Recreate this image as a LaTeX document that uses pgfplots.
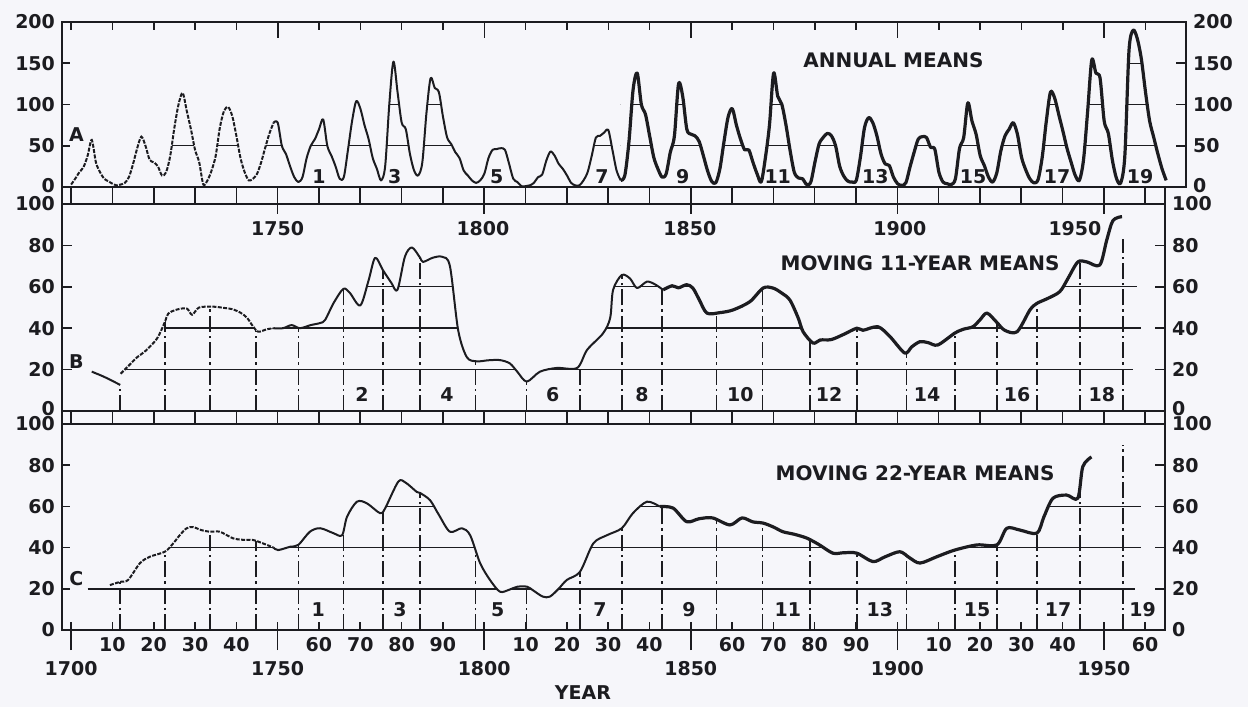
\documentclass[border=0pt]{standalone}
\usepackage{fontspec}
\setmainfont{DejaVu Sans}
\usepackage{pgfplots}
\usepackage{pgfplotstable}
\pgfplotsset{compat=1.18}

\definecolor{paper}{RGB}{246,246,250}
\definecolor{ink}{RGB}{28,28,32}
\newcommand\lab{\bfseries\fontsize{9.5}{10}\selectfont}
\newcommand\ttl{\bfseries\fontsize{10}{11}\selectfont}

% annual means, panel A
\pgfplotstableread[row sep=\\]{x y\\
1700 3\\1701 10\\1702 18\\1703 24\\1704 38\\1705 57\\1706 30\\1707 18\\1708 10\\1709 7\\
1710 4\\1711 2\\1712 3\\1713 5\\1714 12\\1715 28\\1716 47\\1717 61\\1718 50\\1719 33\\
1720 30\\1721 25\\1722 14\\1723 18\\1724 38\\1725 72\\1726 100\\1727 114\\1728 92\\1729 70\\
1730 45\\1731 30\\1732 3\\1733 8\\1734 20\\1735 38\\1736 72\\1737 92\\1738 97\\1739 86\\
1740 62\\1741 35\\1742 18\\1743 8\\1744 10\\1745 16\\1746 30\\1747 48\\1748 65\\1749 78\\
}\Aone
\pgfplotstableread[row sep=\\]{x y\\
1749 78\\1750 78\\1751 50\\1752 40\\1753 25\\1754 12\\1755 6\\1756 12\\1757 35\\1758 50\\1759 58\\
1760 70\\1761 82\\1762 50\\1763 38\\1764 25\\1765 10\\1766 12\\1767 45\\1768 80\\1769 104\\
1770 95\\1771 75\\1772 58\\1773 35\\1774 22\\1775 8\\1776 25\\1777 100\\1778 152\\1779 115\\
1780 78\\1781 70\\1782 40\\1783 20\\1784 14\\1785 30\\1786 90\\1787 132\\1788 120\\1789 115\\
1790 85\\1791 60\\1792 52\\1793 42\\1794 35\\1795 20\\1796 14\\1797 8\\1798 5\\1799 8\\
1800 16\\1801 35\\1802 45\\1803 46\\1804 47\\1805 45\\1806 28\\1807 10\\1808 6\\1809 1\\
1810 1\\1811 2\\1812 5\\1813 12\\1814 15\\1815 32\\1816 43\\1817 38\\1818 28\\1819 22\\
1820 14\\1821 5\\1822 2\\1823 2\\1824 8\\1825 18\\1826 38\\1827 60\\1828 62\\1829 66\\
1830 69\\1831 45\\1832 20\\1833 8\\
}\Atwo
\pgfplotstableread[row sep=\\]{x y\\
1833 8\\1834 14\\1835 55\\1836 118\\1837 138\\1838 100\\1839 88\\1840 62\\1841 36\\1842 22\\
1843 12\\1844 16\\1845 42\\1846 62\\1847 125\\1848 110\\1849 70\\1850 64\\1851 62\\1852 55\\
1853 38\\1854 20\\1855 7\\1856 5\\1857 22\\1858 55\\1859 85\\1860 95\\1861 75\\1862 58\\
1863 45\\1864 45\\1865 30\\1866 16\\1867 6\\1868 35\\1869 75\\1870 138\\1871 110\\1872 100\\
1873 75\\1874 44\\1875 18\\1876 11\\1877 10\\1878 3\\1879 6\\1880 30\\1881 52\\1882 60\\
1883 65\\1884 62\\1885 50\\1886 25\\1887 13\\1888 7\\1889 6\\1890 8\\1891 36\\1892 72\\
1893 84\\1894 78\\1895 62\\1896 40\\1897 28\\1898 26\\1899 12\\1900 4\\1901 2\\1902 5\\
1903 24\\1904 42\\1905 58\\1906 61\\1907 60\\1908 48\\1909 46\\1910 18\\1911 6\\1912 4\\
1913 3\\1914 10\\1915 47\\1916 60\\1917 102\\1918 80\\1919 64\\1920 38\\1921 26\\1922 12\\
1923 6\\1924 17\\1925 44\\1926 62\\1927 70\\1928 78\\1929 64\\1930 36\\1931 21\\1932 10\\
1933 5\\1934 9\\1935 36\\1936 80\\1937 115\\1938 108\\1939 88\\1940 68\\1941 47\\1942 30\\
1943 14\\1944 8\\1945 33\\1946 92\\1947 154\\1948 138\\1949 132\\1950 80\\1951 65\\1952 32\\
1953 10\\1954 5\\1955 38\\1956 165\\1957 190\\1958 180\\1959 155\\1960 115\\1961 80\\1962 60\\
1963 40\\1964 22\\1965 8\\
}\Athree

% moving 11-year means, panel B
\pgfplotstableread[row sep=\\]{x y\\
1705 19\\1708 16.5\\1711.9 12.6\\
}\Bzero
\pgfplotstableread[row sep=\\]{x y\\
1712 18\\1714 22\\1716 26\\1718 29\\1720.8 35\\1722.7 43\\1723.5 47\\1725.6 49\\1728 49.5\\
1729.3 46.5\\1731 50\\1734.4 50.4\\1737 49.8\\1739 49.2\\1741 47.5\\1742.6 45\\1744 41\\
1745.3 38.3\\1747.4 39.5\\1749 40\\
}\Bone
\pgfplotstableread[row sep=\\]{x y\\
1749 40\\1751.3 40\\1753.4 41.5\\1755.4 40\\1758 41.5\\1760.3 42.5\\1761.5 44\\1763.5 52\\
1765.9 59\\1767.5 57\\1770 51\\1772 63\\1773.6 74\\1775.5 68\\1777.5 62\\1779 58.5\\
1780.8 74.5\\1782.5 79\\1784.5 74\\1785.2 72\\1787.5 74\\1789.8 74.5\\1791.7 70\\1793.7 39\\
1795.8 26\\1798.2 24\\1801 24.5\\1803.8 24.6\\1806.2 23\\1808 19\\1810.3 14.2\\1813.5 19\\
1817.6 20.8\\1822.5 20.8\\1824.9 29.5\\1828.8 37.6\\1830.5 45\\1831.2 58.5\\1833.3 65.7\\
1835.3 64\\1837 59.4\\1839.4 62.5\\1841.5 61\\1843.3 58.5\\
}\Btwo
\pgfplotstableread[row sep=\\]{x y\\
1843.3 58.5\\1845.5 60.5\\1847 59.5\\1849 61\\1850.5 59.4\\1852 54\\1853.9 47.3\\1857 47.5\\
1860.2 48.8\\1864.3 52.8\\1867.5 59.4\\1869.9 59.4\\1872 57\\1874 53.6\\1876 45\\1877.2 38.3\\
1879.6 32.8\\1881.3 34.3\\1884 34.5\\1887 37\\1890.2 40\\1891.7 39\\1895.3 40.7\\1898.2 36\\
1901.8 28\\1903.5 31\\1905.5 33.5\\1907.5 33\\1909.8 31.9\\1913.9 37.6\\1916 39.5\\
1918.3 40.7\\1920 44\\1921.7 47.3\\1924 43\\1926 39\\1929 38.3\\1932.1 48.8\\1933.8 52\\
1936 54\\1939.3 57.6\\1941.3 64\\1943.7 72\\1945.9 72\\1949 70.5\\1950.7 82.6\\1952.2 92\\
1954.4 93.9\\
}\Bthree

% moving 22-year means, panel C
\pgfplotstableread[row sep=\\]{x y\\
1709.4 21.8\\1711.9 23.4\\1713.8 24.3\\1716.7 32.5\\1719.1 35.6\\1722.7 38\\1724.7 42\\
1726.5 46.5\\1728 49.4\\1729.5 50\\1731.5 48.5\\1733.6 47.7\\1736 47.7\\1739.2 44.5\\
1741.5 43.8\\1744 43.7\\1746.5 42\\1749 40\\
}\Cone
\pgfplotstableread[row sep=\\]{x y\\
1749 40\\1750.1 38.8\\1753 40.4\\1755 41.3\\1757.8 47.7\\1760.3 49.4\\1763.5 47\\1765.6 46\\
1766.8 55\\1769.2 62.3\\1771.6 61.5\\1774.8 56.7\\1776 59\\1779.2 72\\1781 71.5\\1783.7 67\\
1784.5 66.5\\1786.9 63\\1789 56\\1791.7 47.7\\1794.6 49.4\\1796.6 46\\1799 32.5\\1801.4 24.3\\
1803.8 18.6\\1806 19.5\\1808 21\\1810.4 21\\1812 19\\1814.2 16.2\\1815.9 16.2\\1818 20\\
1820 24.3\\1823.2 28.3\\1826.4 42\\1829.7 46\\1833.3 49.4\\1836 56.7\\1839.4 62.3\\1842.5 59.9\\
}\Ctwo
\pgfplotstableread[row sep=\\]{x y\\
1842.5 59.9\\1845.7 59.2\\1849 52.6\\1852 54\\1855.3 54.4\\1859.5 51\\1862.4 54.4\\1865 52.5\\
1867.5 51.9\\1870 50\\1872.3 47.7\\1875 46.5\\1878.1 44.6\\1881 41.5\\1884.4 37.3\\1887 37.5\\
1890.2 37.3\\1894.1 33.2\\1897 35.5\\1900.6 38\\1903 35\\1905.5 32.5\\1909.6 35.6\\1913.9 38.8\\
1919.3 41.3\\1924.1 41.3\\1926.5 49.4\\1929.7 48.5\\1933.8 47\\1935.5 55\\1937.7 64\\1941 65.5\\
1943.7 64\\1944.9 79.3\\1947 84\\
}\Cthree

\tikzset{
  gridl/.style={ink, line width=0.7pt},
  minl/.style={ink, line width=0.8pt, dash pattern=on 8pt off 2pt on 1.2pt off 2pt},
  dotc/.style={ink, line width=1pt, smooth, tension=0.5, dash pattern=on 2pt off 0.7pt},
  thinc/.style={ink, line width=1pt, smooth, tension=0.5, line join=round},
  thickc/.style={ink, line width=1.6pt, smooth, tension=0.5, line join=round},
  mask/.style={fill=paper, draw=none, smooth, tension=0.5},
}
\pgfplotsset{
  base/.style={scale only axis, anchor=south west, xmin=1697.8, xmax=1964.8,
    axis on top, axis line style={ink, line width=1pt},
    tick style={ink, line width=0.8pt}, tick align=inside, major tick length=5pt,
    tick label style={font=\lab, text=ink},
    /pgf/number format/assume math mode=true, /pgf/number format/1000 sep={}},
  band/.style={base, ymin=0, ymax=1, xtick={1700,1710,...,1960}, xmajorgrids,
    major grid style={ink, line width=0.8pt}, major tick length=0pt,
    xticklabels={}, ytick=\empty, width=551.5pt},
  rightax/.style={base, axis x line=none, axis y line*=right, xticklabels={}},
}

\begin{document}
\begin{tikzpicture}[every node/.append style={font=\lab, text=ink}]
\fill[paper] (0,0) rectangle (624pt,353.5pt);

% ---- A: annual means
\begin{axis}[base, at={(31pt,260pt)}, width=562pt, height=82.5pt, xmax=1969.8,
  ymin=0, ymax=200, ytick={0,50,...,200}, ytick pos=left,
  yticklabels={\raisebox{2pt}{0},50,100,150,200},
  xtick={1700,1710,...,1960}, xtick pos=right, major tick length=4pt, xticklabels={},
  extra x ticks={1750,1800,1850,1900,1950}, extra x tick labels={},
  extra x tick style={major tick length=8pt}]
  \addplot[gridl] coordinates {(1722,50) (1963,50)};
  \addplot[gridl] coordinates {(1775,100) (1963,100)};
  \addplot[gridl] coordinates {(1950,150) (1962,150)};
  \addplot[mask] table {\Aone} |- (axis cs:1700,200) -- cycle;
  \addplot[mask] table {\Atwo} |- (axis cs:1749,200) -- cycle;
  \addplot[mask] table {\Athree} |- (axis cs:1833,200) -- cycle;
  \addplot[dotc] table {\Aone};
  \addplot[thinc] table {\Atwo};
  \addplot[thickc] table {\Athree};
  \node at (axis cs:1701.3,63) {A};
  \node[font=\ttl] at (axis cs:1899,154) {ANNUAL MEANS};
  \node at (axis cs:1760,13) {1};
  \node at (axis cs:1778.3,13) {3};
  \node at (axis cs:1803,13) {5};
  \node at (axis cs:1828.5,13) {7};
  \node at (axis cs:1848,13) {9};
  \node at (axis cs:1871,13) {11};
  \node at (axis cs:1894.6,13) {13};
  \node at (axis cs:1918.3,13) {15};
  \node at (axis cs:1938.6,13) {17};
  \node at (axis cs:1958.7,13) {19};
\end{axis}
\begin{axis}[rightax, at={(31pt,260pt)}, width=562pt, height=82.5pt, xmax=1969.8,
  ymin=0, ymax=200, ytick={0,50,...,200},
  yticklabels={\raisebox{2pt}{0},50,100,150,200}]
\end{axis}

% band between A and B
\begin{axis}[band, at={(31pt,251.5pt)}, height=8.5pt]
\end{axis}

% ---- B: moving 11-year means
\begin{axis}[base, at={(31pt,148pt)}, width=551.5pt, height=103.5pt,
  ymin=0, ymax=100, ytick={0,20,...,100}, ytick pos=left,
  yticklabels={\raisebox{3pt}{0},20,40,60,80,\raisebox{-1pt}{100}},
  xtick={1750,1800,1850,1900,1950}, xtick pos=right, xticklabels={}]
  \addplot[gridl] coordinates {(1712,20) (1957,20)};
  \addplot[gridl] coordinates {(1722.6,40) (1959,40)};
  \addplot[gridl] coordinates {(1771,60) (1958,60)};
  \addplot[minl, ycomb] coordinates {(1711.9,12.6) (1722.7,100) (1733.6,100) (1744.8,100)
    (1755,100) (1765.9,100) (1775.5,100) (1784.5,100) (1797.9,100) (1810.2,100) (1823.2,100)
    (1833.3,100) (1843.1,100) (1856.2,100) (1867.4,100) (1878.9,100) (1890.2,100) (1902.2,100)
    (1913.9,100) (1924.1,100) (1933.8,100) (1944.2,100) (1954.6,83)};
  \addplot[mask] table {\Bzero} |- (axis cs:1705,100) -- cycle;
  \addplot[mask] table {\Bone} |- (axis cs:1712,100) -- cycle;
  \addplot[mask] table {\Btwo} |- (axis cs:1749,100) -- cycle;
  \addplot[mask] table {\Bthree} |- (axis cs:1843.3,100) -- cycle;
  \addplot[thinc] table {\Bzero};
  \addplot[dotc] table {\Bone};
  \addplot[thinc] table {\Btwo};
  \addplot[thickc] table {\Bthree};
  \node at (axis cs:1701.3,23.7) {B};
  \node[font=\ttl] at (axis cs:1905.5,71.5) {MOVING 11-YEAR MEANS};
  \node at (axis cs:1750,88) {1750};
  \node at (axis cs:1799.7,88) {1800};
  \node at (axis cs:1849.8,88) {1850};
  \node at (axis cs:1900.6,88) {1900};
  \node at (axis cs:1943,88) {1950};
  \node at (axis cs:1770.4,8) {2};
  \node at (axis cs:1791,8) {4};
  \node at (axis cs:1816.6,8) {6};
  \node at (axis cs:1838.2,8) {8};
  \node at (axis cs:1862,8) {10};
  \node at (axis cs:1883.5,8) {12};
  \node at (axis cs:1907.2,8) {14};
  \node at (axis cs:1929,8) {16};
  \node at (axis cs:1949.5,8) {18};
\end{axis}
\begin{axis}[rightax, at={(31pt,148pt)}, width=551.5pt, height=103.5pt,
  ymin=0, ymax=100, ytick={0,20,...,100},
  yticklabels={\raisebox{3pt}{0},20,40,60,80,\raisebox{-1pt}{100}}]
\end{axis}

% band between B and C
\begin{axis}[band, at={(31pt,141.5pt)}, height=6.5pt]
\end{axis}

% ---- C: moving 22-year means
\begin{axis}[base, at={(31pt,38.5pt)}, width=551.5pt, height=103pt,
  ymin=0, ymax=100, ytick={0,20,...,100}, ytick pos=left,
  yticklabels={0,20,40,60,80,\raisebox{-1.5pt}{100}},
  xtick={1700,1710,...,1960}, xtick pos=left, major tick length=4pt,
  xticklabels={,10,20,30,40,,60,70,80,90,,10,20,30,40,,60,70,80,90,,10,20,30,40,,60},
  extra x ticks={1700,1750,1800,1850,1900,1950},
  extra x tick labels={1700,1750,1800,1850,1900,1950},
  extra x tick style={xtick align=outside, major tick length=10pt,
    xticklabel style={yshift=-2pt}}]
  \addplot[gridl] coordinates {(1704,20) (1957.5,20)};
  \addplot[gridl] coordinates {(1723,40) (1959,40)};
  \addplot[gridl] coordinates {(1775.5,60) (1959,60)};
  \addplot[minl, ycomb] coordinates {(1711.9,100) (1722.7,100) (1733.6,100) (1744.8,100)
    (1755,100) (1765.9,100) (1775.5,100) (1784.5,100) (1797.9,100) (1810.2,100) (1823.2,100)
    (1833.3,100) (1843.1,100) (1856.2,100) (1867.4,100) (1878.9,100) (1890.2,100) (1902.2,100)
    (1913.9,100) (1924.1,100) (1933.8,100) (1944.2,100) (1954.6,90)};
  \addplot[mask] table {\Cone} |- (axis cs:1709.4,100) -- cycle;
  \addplot[mask] table {\Ctwo} |- (axis cs:1749,100) -- cycle;
  \addplot[mask] table {\Cthree} |- (axis cs:1842.5,100) -- cycle;
  \addplot[dotc] table {\Cone};
  \addplot[thinc] table {\Ctwo};
  \addplot[thickc] table {\Cthree};
  \node at (axis cs:1701.3,25) {C};
  \node[font=\ttl] at (axis cs:1904.3,76) {MOVING 22-YEAR MEANS};
  \node at (axis cs:1759.8,10) {1};
  \node at (axis cs:1779.6,10) {3};
  \node at (axis cs:1803.3,10) {5};
  \node at (axis cs:1828,10) {7};
  \node at (axis cs:1849.6,10) {9};
  \node at (axis cs:1873.5,10) {11};
  \node at (axis cs:1895.8,10) {13};
  \node at (axis cs:1919.3,10) {15};
  \node at (axis cs:1938.9,10) {17};
  \node at (axis cs:1959.4,10) {19};
\end{axis}
\begin{axis}[rightax, at={(31pt,38.5pt)}, width=551.5pt, height=103pt,
  ymin=0, ymax=100, ytick={0,20,...,100},
  yticklabels={0,20,40,60,80,\raisebox{-1.5pt}{100}},
  axis x line*=top, xtick={1750,1800,1850,1900,1950}, major tick length=5pt]
\end{axis}

\node at (291.5pt,7pt) {YEAR};
\end{tikzpicture}
\end{document}
